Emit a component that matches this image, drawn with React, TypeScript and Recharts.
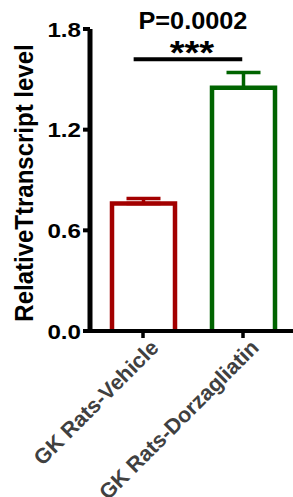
import React from "react";
import {
  BarChart,
  Bar,
  XAxis,
  YAxis,
  ErrorBar,
  ReferenceLine,
} from "recharts";

const groups = ["GK Rats-Vehicle", "GK Rats-Dorzagliatin"];
const vehicleMean = [0.76, null];
const vehicleSem = [0.03, null];
const dorzagliatinMean = [null, 1.45];
const dorzagliatinSem = [null, 0.09];
const yTicks = [0, 0.6, 1.2, 1.8];
const pValueText = "P=0.0002";
const starsText = "***";
// bracket ends, on a hidden 0..2 position axis
const bracketX = [0.43, 1.5];
const bracketY = 1.62;

const data = groups.map((name, i) => ({
  name,
  pos: i + 0.5,
  vehicle: vehicleMean[i],
  vehicleErr: vehicleSem[i] == null ? null : [0, vehicleSem[i]],
  dorz: dorzagliatinMean[i],
  dorzErr: dorzagliatinSem[i] == null ? null : [0, dorzagliatinSem[i]],
}));

const FONT = "'Liberation Sans', Arial, sans-serif";
const RED = "#A30000";
const GREEN = "#006400";

// open-bottom bar outline like Prism
const OutlineBar = (props: any) => {
  const { x, y, width, height, stroke, value } = props;
  if (value == null || !height || height <= 0) return null;
  const d = `M${x},${y + height} L${x},${y} L${x + width},${y} L${x + width},${y + height}`;
  return (
    <g>
      <rect x={x} y={y} width={width} height={height} fill="#fff" />
      <path d={d} fill="none" stroke={stroke} strokeWidth={4.5} />
    </g>
  );
};

const YTick = ({ x, y, payload }: any) => (
  <text
    transform={`translate(${x},${y + 7.5}) scale(1.15,1)`}
    textAnchor="end"
    fontFamily={FONT}
    fontWeight="bold"
    fontSize={21}
    fill="#000"
  >
    {payload.value.toFixed(1)}
  </text>
);

const XTick = ({ x, y, payload }: any) => (
  <text
    transform={`translate(${x + 17},${y + 9}) rotate(-45)`}
    textAnchor="end"
    fontFamily={FONT}
    fontWeight="bold"
    fontSize={21.5}
    fill="#404040"
  >
    {payload.value}
  </text>
);

const YLabel = ({ viewBox }: any) => (
  <text
    transform={`translate(${viewBox.x + 24},${viewBox.y + viewBox.height / 2 + 3}) scale(1.08,1) rotate(-90)`}
    textAnchor="middle"
    dy={8.5}
    fontFamily={FONT}
    fontWeight="bold"
    fontSize={24}
    fill="#000"
  >
    RelativeTtranscript level
  </text>
);

const SigLabel = ({ viewBox }: any) => {
  const cx = viewBox.x + viewBox.width / 2;
  return (
    <g fontFamily={FONT} fontWeight="bold" fill="#000">
      <text
        transform={`translate(${cx + 4},${viewBox.y + 4.5}) scale(1.12,1)`}
        textAnchor="middle"
        fontSize={34}
      >
        {starsText}
      </text>
      <text
        transform={`translate(${cx + 5},${viewBox.y - 30.7}) scale(1.1,1)`}
        textAnchor="middle"
        fontSize={23}
      >
        {pValueText}
      </text>
    </g>
  );
};

export default function App() {
  return (
    <div style={{ position: "absolute", left: 0, top: 0, background: "#fff" }}>
      <BarChart
        width={293}
        height={497}
        data={data}
        margin={{ top: 29, right: 0, bottom: 0, left: 0 }}
        barSize={63}
        barGap={-63}
      >
        <XAxis
          dataKey="name"
          height={166}
          padding={{ left: 3, right: 0 }}
          axisLine={{ stroke: "#000", strokeWidth: 4 }}
          tickLine={{ stroke: "#000", strokeWidth: 3.5 }}
          tickSize={7}
          tick={<XTick />}
          interval={0}
        />
        <XAxis
          xAxisId="pos"
          dataKey="pos"
          type="number"
          domain={[0, 2]}
          allowDataOverflow
          hide
        />
        <YAxis
          width={90}
          domain={[0, 1.8]}
          ticks={yTicks}
          axisLine={{ stroke: "#000", strokeWidth: 5 }}
          tickLine={{ stroke: "#000", strokeWidth: 4 }}
          tickSize={7}
          tick={<YTick />}
          label={<YLabel />}
        />
        <Bar
          dataKey="vehicle"
          fill="#fff"
          stroke={RED}
          shape={<OutlineBar />}
          isAnimationActive={false}
        >
          <ErrorBar dataKey="vehicleErr" direction="y" width={17} stroke={RED} strokeWidth={3.5} />
        </Bar>
        <Bar
          dataKey="dorz"
          fill="#fff"
          stroke={GREEN}
          shape={<OutlineBar />}
          isAnimationActive={false}
        >
          <ErrorBar dataKey="dorzErr" direction="y" width={17} stroke={GREEN} strokeWidth={3.5} />
        </Bar>
        <ReferenceLine
          xAxisId="pos"
          segment={[
            { x: bracketX[0], y: bracketY },
            { x: bracketX[1], y: bracketY },
          ]}
          stroke="#000"
          strokeWidth={4}
          ifOverflow="visible"
          label={<SigLabel />}
        />
      </BarChart>
    </div>
  );
}
